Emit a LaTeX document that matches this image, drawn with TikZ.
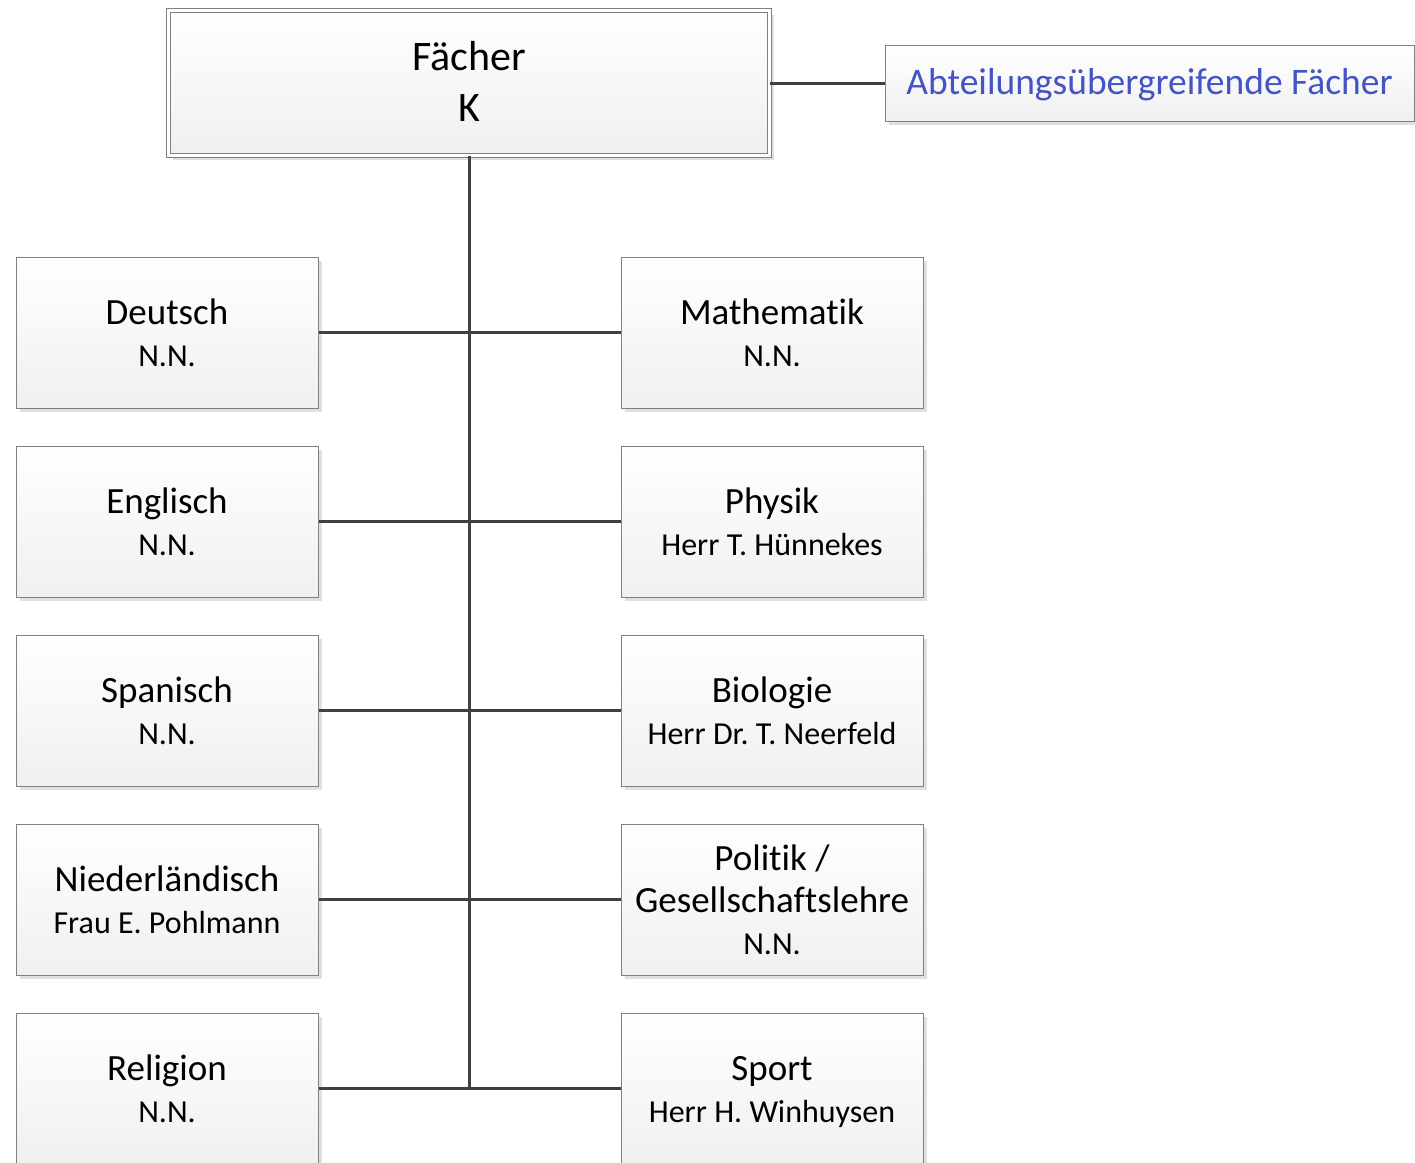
\documentclass[tikz,border=0pt]{standalone}
\usepackage{fontspec}
\setmainfont{Carlito}[Ligatures={NoCommon,NoContextual,NoRare}, Contextuals=NoAlternate]
\usetikzlibrary{shadows}
\definecolor{linegray}{RGB}{64,64,64}
\definecolor{boxgray}{RGB}{128,128,128}
\definecolor{titleblue}{RGB}{68,84,196}
\newcommand{\fachname}{\fontsize{37}{43}\selectfont\vphantom{h}}
\newcommand{\ohnetiefe}[1]{\raisebox{0pt}[\height][0pt]{#1}}
\frenchspacing

\begin{document}
\begin{tikzpicture}[x=1pt,y=1pt]
		\tikzstyle{every node}+=[inner sep=0pt]
		\tikzstyle{fach}=[draw=boxgray, line width=1pt, top color=white, bottom color=black!6, minimum width=302pt, minimum height=151pt, align=center, font=\fontsize{32}{42}\selectfont, drop shadow={shadow xshift=4pt, shadow yshift=-4pt, fill=black!12, opacity=1}]
		\tikzstyle{verbindung}=[draw=linegray, line width=3pt]
		\useasboundingbox (0,0) rectangle (1415,-1162);
		\node [fach, minimum width=601pt, minimum height=145pt, double=white, double distance=3pt, font=\fontsize{42}{51}\selectfont] (faecher) at (469,-83) {Fächer\\K\rule[-4pt]{0pt}{4pt}};
		\node [fach, minimum width=529pt, minimum height=76pt, text=titleblue, font=\fontsize{37.5}{43}\selectfont] (abt) at (1149.5,-83) {\raisebox{0pt}[\dimexpr\height+4pt\relax]{Abteilungsübergreifende Fächer}};
		\node [fach] (deutsch) at (167,-332.5) {{\fachname Deutsch}\\N.N.};
		\node [fach] (englisch) at (167,-521.5) {{\fachname Englisch}\\N.N.};
		\node [fach] (spanisch) at (167,-710.5) {{\fachname Spanisch}\\N.N.};
		\node [fach] (nl) at (167,-899.5) {{\fachname Niederländisch}\\Frau E. Pohlmann};
		\node [fach] (religion) at (167,-1088.5) {{\fachname Religion}\\N.N.};
		\node [fach] (mathe) at (772,-332.5) {{\fachname Mathematik}\\N.N.};
		\node [fach] (physik) at (772,-521.5) {{\fachname Physik}\\Herr T. Hünnekes};
		\node [fach] (bio) at (772,-710.5) {{\fachname Biologie}\\Herr Dr. T. Neerfeld};
		\node [fach] (politik) at (772,-899.5) {{\fachname Politik /}\\{\fachname Gesellschaftslehre}\\N.N.};
		\node [fach] (sport) at (772,-1088.5) {{\fachname Sport}\\\ohnetiefe{Herr H. Winhuysen}};
		% Verbindungen
		\draw [verbindung] (faecher.east) -- (abt.west);
		\draw [verbindung] (faecher.south) -- (faecher.south |- religion.east);
		\foreach \l/\r in {deutsch/mathe, englisch/physik, spanisch/bio, nl/politik, religion/sport}
			\draw [verbindung] (\l.east) -- (\r.west);
\end{tikzpicture}
\end{document}
